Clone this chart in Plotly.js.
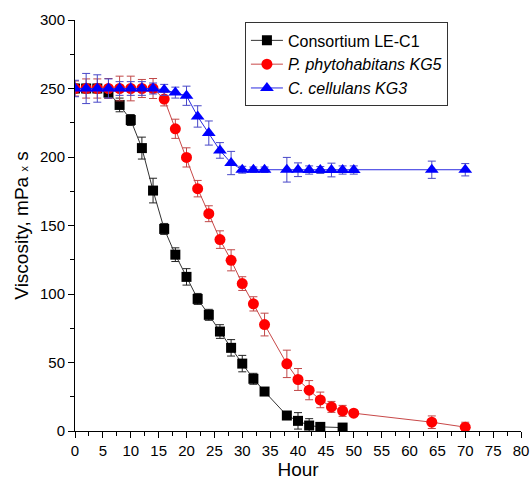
<!DOCTYPE html>
<html>
<head>
<meta charset="utf-8">
<script src="https://cdn.plot.ly/plotly-3.0.1.min.js"></script>
<style>html,body{margin:0;padding:0;background:#fff;}#chart{width:532px;height:492px;}</style>
</head>
<body>
<div id="chart"></div>
<script>
// Consortium LE-C1
var hoursA = [0, 2, 4, 6, 8, 10, 12, 14, 16, 18, 20, 22, 24, 26, 28, 30, 32, 34, 38, 40, 42, 44, 48];
var valsA  = [250, 250, 250, 247, 238, 227, 206.5, 175.5, 147.5, 128.7, 112.5, 96.4, 84.8, 72.6, 60.7, 49.2, 38.1, 28.8, 11.3, 7.4, 4, 3, 2.5];
var errA   = [3, 3, 3, 4, 5, 4, 8, 9, 4, 5, 6, 4, 4, 5, 6, 6, 4, 2.5, 2, 6, 5, 3, 3];

// P. phytohabitans KG5
var hoursB = [0, 2, 4, 6, 8, 10, 12, 14, 16, 18, 20, 22, 24, 26, 28, 30, 32, 34, 38, 40, 42, 44, 46, 48, 50, 64, 70];
var valsB  = [250, 250, 250, 250, 250, 250, 250, 250, 242.3, 220.6, 199.7, 176.9, 158.6, 139.7, 124.6, 107.6, 92.8, 77.7, 49, 37.6, 29.8, 22.7, 17.6, 14.7, 13, 6.4, 2.8];
var errB   = [5.5, 7, 7, 7.3, 9, 9, 6.6, 7.3, 5, 7, 7, 6, 5.8, 6.4, 7.7, 5, 5.2, 8.3, 10, 8, 7, 5.7, 4, 4, 2, 4.6, 3.6];

// C. cellulans KG3
var hoursC = [0, 2, 4, 6, 8, 10, 12, 14, 16, 18, 20, 22, 24, 26, 28, 30, 32, 34, 38, 40, 42, 44, 46, 48, 50, 64, 70];
var valsC  = [250, 250, 250, 250, 250, 250, 250, 250, 249, 247, 244.7, 229.6, 217.5, 204.8, 195.6, 190.7, 190.7, 190.7, 190.7, 190.7, 190.5, 190.5, 190.5, 190.5, 190.5, 190.7, 190.7];
var errC   = [6, 11, 10, 7, 5, 5, 5, 4, 4, 4, 7, 7.8, 8.8, 5.7, 8.5, 2.5, 2, 2, 9, 5, 3, 2.5, 5, 3, 3, 6.3, 4.5];

var names = ['Consortium LE-C1', '<i>P. phytohabitans KG5</i>', '<i>C. cellulans KG3</i>'];

function mk(x, y, e, name, lineColor, errColor, markerColor, symbol, size) {
  return {
    x: x, y: y, name: name, type: 'scatter', mode: 'lines+markers',
    line: {color: lineColor, width: 1},
    marker: {color: markerColor, symbol: symbol, size: size},
    error_y: {type: 'data', array: e, visible: true, color: errColor, thickness: 1, width: 4}
  };
}

var data = [
  mk(hoursA, valsA, errA, names[0], '#333333', '#222222', '#000000', 'square', 10),
  mk(hoursB, valsB, errB, names[1], '#c84848', '#c04848', '#ff0000', 'circle', 11),
  mk(hoursC, valsC, errC, names[2], '#2a2ae0', '#4848c8', '#0000ff', 'triangle-up', 12)
];

var fontFam = '"Liberation Sans", Arial, sans-serif';
var layout = {
  width: 532, height: 492,
  margin: {l: 75, r: 11, t: 20, b: 60.5},
  paper_bgcolor: '#ffffff', plot_bgcolor: '#ffffff',
  font: {family: fontFam, color: '#000', size: 15},
  showlegend: true,
  legend: {
    x: 0.381, y: 0.994, xanchor: 'left', yanchor: 'top',
    bordercolor: '#333', borderwidth: 1, bgcolor: '#fff',
    font: {family: fontFam, size: 16, color: '#000'},
    itemwidth: 32,
    tracegroupgap: 0
  },
  xaxis: {
    range: [0, 80], dtick: 5, tick0: 0,
    showgrid: false, zeroline: false,
    showline: true, linecolor: '#000', linewidth: 1,
    ticks: 'outside', ticklen: 6, tickcolor: '#000',
    minor: {dtick: 2.5, ticks: 'outside', ticklen: 4, tickcolor: '#000', showgrid: false},
    tickfont: {size: 15},
    title: {text: 'Hour', font: {size: 19}, standoff: 4}
  },
  yaxis: {
    range: [0, 300], dtick: 50, tick0: 0,
    showgrid: false, zeroline: false,
    showline: true, linecolor: '#000', linewidth: 1,
    ticks: 'outside', ticklen: 6, tickcolor: '#000',
    minor: {dtick: 25, ticks: 'outside', ticklen: 4, tickcolor: '#000', showgrid: false},
    tickfont: {size: 15},
    title: {text: 'Viscosity, mPa <span style="font-size:11px">x</span> s', font: {size: 19}, standoff: 6}
  }
};

Plotly.newPlot('chart', data, layout, {displayModeBar: false, staticPlot: true});
</script>
</body>
</html>
